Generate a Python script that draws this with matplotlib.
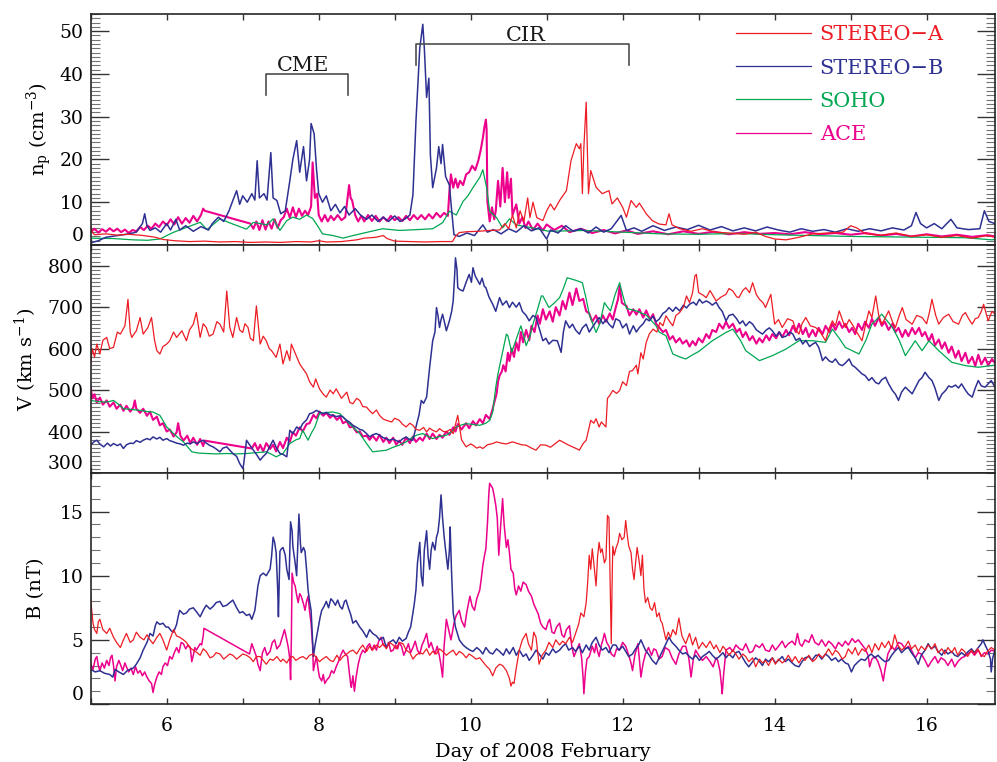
import matplotlib
matplotlib.use("Agg")
import matplotlib.pyplot as plt
import numpy as np
from matplotlib.ticker import MultipleLocator

plt.rcParams["font.family"] = ["DejaVu Serif"]
plt.rcParams["mathtext.fontset"] = "dejavuserif"

C_STA = "#ed1c24"
C_STB = "#2e3192"
C_SOHO = "#00a651"
C_ACE = "#ec008c"

series_names = ["STEREO\u2212A", "STEREO\u2212B", "SOHO", "ACE"]

# ---------------- proton density (cm^-3), (day, value)
np_sta = [(5.0, 4.5), (5.02, 3.0), (5.05, 2.4), (5.2, 2.6), (5.35, 2.3), (5.5, 2.5), (5.7, 2.2),
          (5.85, 1.8), (5.95, 1.3), (6.1, 1.0), (6.3, 0.8), (6.5, 0.9), (6.7, 0.7), (6.9, 0.8),
          (7.1, 0.6), (7.3, 0.7), (7.5, 0.6), (7.7, 0.8), (7.9, 0.7), (8.0, 1.0), (8.1, 0.7),
          (8.3, 0.8), (8.5, 1.2), (8.6, 1.6), (8.75, 1.8), (8.85, 2.2), (8.9, 1.5), (9.0, 0.9),
          (9.2, 0.8), (9.4, 0.7), (9.6, 0.8), (9.76, 0.8), (9.8, 2.0), (9.85, 2.9), (9.95, 3.1),
          (10.1, 3.2), (10.25, 3.4), (10.38, 3.5), (10.45, 5.0), (10.5, 3.8), (10.55, 7.0),
          (10.6, 4.0), (10.65, 8.0), (10.7, 5.5), (10.75, 11.0), (10.78, 6.4), (10.82, 10.0),
          (10.87, 6.4), (10.95, 5.7), (11.0, 8.0), (11.05, 9.6), (11.1, 8.2), (11.17, 10.4),
          (11.26, 12.7), (11.32, 19.7), (11.39, 23.7), (11.43, 22.5), (11.45, 23.7), (11.47, 12.0),
          (11.49, 23.0), (11.52, 33.4), (11.55, 12.0), (11.58, 17.4), (11.65, 13.5), (11.73, 12.0),
          (11.82, 12.7), (11.86, 9.6), (11.93, 11.0), (12.0, 8.8), (12.05, 6.5), (12.11, 10.4),
          (12.18, 8.8), (12.22, 9.8), (12.31, 7.3), (12.39, 5.7), (12.48, 4.9), (12.57, 4.7),
          (12.61, 7.3), (12.65, 4.7), (12.75, 3.8), (12.9, 3.2), (13.05, 3.8), (13.22, 3.0),
          (13.4, 2.8), (13.6, 2.5), (13.75, 3.0), (13.88, 2.0), (14.0, 1.4), (14.15, 1.2),
          (14.32, 1.8), (14.5, 2.6), (14.7, 2.8), (14.9, 3.0), (15.0, 4.5), (15.08, 4.0),
          (15.2, 2.6), (15.4, 2.3), (15.6, 2.8), (15.8, 2.0), (16.0, 2.4), (16.2, 1.8),
          (16.4, 2.2), (16.6, 1.6), (16.8, 2.2), (16.9, 1.8)]

np_stb = [(5.0, 0.5), (5.1, 1.0), (5.2, 1.8), (5.35, 2.2), (5.5, 2.6), (5.6, 3.0), (5.68, 5.0),
          (5.71, 7.3), (5.74, 4.5), (5.78, 3.4), (5.85, 4.0), (5.92, 3.0), (6.0, 5.0), (6.05, 3.5),
          (6.12, 6.0), (6.17, 3.5), (6.25, 4.5), (6.35, 3.2), (6.45, 4.3), (6.55, 3.5), (6.6, 5.0),
          (6.68, 6.5), (6.75, 5.5), (6.82, 8.0), (6.87, 10.4), (6.92, 12.7), (6.96, 9.5),
          (7.0, 11.5), (7.06, 10.0), (7.12, 12.0), (7.16, 10.5), (7.19, 19.7), (7.22, 11.0),
          (7.28, 12.0), (7.32, 10.5), (7.37, 21.6), (7.40, 11.0), (7.45, 10.4), (7.5, 7.3),
          (7.56, 8.0), (7.62, 15.0), (7.66, 20.0), (7.71, 24.4), (7.75, 17.0), (7.8, 23.0),
          (7.84, 15.0), (7.88, 20.0), (7.9, 28.4), (7.94, 26.0), (7.97, 18.0), (8.0, 12.0),
          (8.05, 10.0), (8.1, 11.5), (8.16, 8.0), (8.22, 9.5), (8.28, 7.5), (8.34, 9.0),
          (8.4, 7.0), (8.48, 8.5), (8.55, 7.0), (8.63, 6.0), (8.7, 7.0), (8.78, 5.5), (8.85, 6.5),
          (8.92, 5.5), (9.0, 6.8), (9.07, 5.5), (9.13, 6.0), (9.2, 7.0), (9.24, 11.7), (9.28, 29.0),
          (9.33, 46.0), (9.37, 51.6), (9.39, 46.0), (9.42, 34.5), (9.45, 39.0), (9.47, 21.0),
          (9.5, 13.4), (9.55, 18.0), (9.58, 23.0), (9.61, 19.0), (9.63, 23.5), (9.67, 16.0),
          (9.7, 14.8), (9.72, 14.0), (9.75, 8.0), (9.78, 2.4), (9.85, 2.0), (9.95, 2.8),
          (10.05, 2.2), (10.16, 4.7), (10.22, 3.0), (10.3, 3.6), (10.4, 2.6), (10.5, 3.8),
          (10.6, 3.0), (10.7, 4.5), (10.8, 3.3), (10.9, 4.0), (11.0, 1.4), (11.05, 3.5),
          (11.15, 2.8), (11.25, 4.5), (11.35, 3.2), (11.45, 3.8), (11.55, 2.8), (11.65, 4.2),
          (11.75, 3.0), (11.85, 3.8), (11.98, 6.9), (12.05, 3.4), (12.15, 4.0), (12.25, 3.2),
          (12.4, 4.5), (12.55, 3.4), (12.7, 4.2), (12.85, 3.6), (13.0, 4.6), (13.15, 3.5),
          (13.3, 4.3), (13.45, 3.3), (13.6, 4.0), (13.75, 3.3), (13.9, 4.2), (14.05, 3.5),
          (14.2, 3.0), (14.35, 3.8), (14.5, 3.2), (14.65, 3.6), (14.8, 3.0), (14.95, 3.8),
          (15.1, 3.2), (15.25, 3.8), (15.4, 3.3), (15.55, 4.0), (15.7, 3.5), (15.8, 4.5),
          (15.86, 7.6), (15.92, 5.0), (16.0, 4.0), (16.1, 5.0), (16.2, 3.8), (16.32, 6.0),
          (16.4, 4.0), (16.55, 3.6), (16.7, 3.8), (16.76, 8.0), (16.82, 5.5), (16.9, 5.0)]

np_soho = [(5.0, 1.6), (5.3, 1.5), (5.56, 1.2), (5.75, 1.1), (5.91, 1.4), (6.08, 2.9), (6.26, 4.1),
           (6.44, 5.3), (6.53, 3.6), (6.7, 6.1), (6.87, 4.9), (7.05, 3.7), (7.14, 5.3), (7.32, 4.7),
           (7.4, 6.1), (7.49, 3.4), (7.58, 5.7), (7.66, 6.5), (7.75, 6.0), (7.84, 7.0), (7.92, 6.2),
           (7.97, 4.9), (8.05, 2.6), (8.19, 2.2), (8.32, 1.6), (8.45, 2.2), (8.62, 2.9), (8.84, 3.8),
           (9.06, 3.4), (9.3, 3.6), (9.5, 3.8), (9.63, 5.2), (9.72, 7.9), (9.81, 7.0), (9.9, 10.2),
           (9.96, 11.4), (10.03, 13.4), (10.12, 15.8), (10.16, 17.6), (10.21, 13.4), (10.25, 7.9),
           (10.34, 6.4), (10.42, 4.0), (10.51, 6.1), (10.6, 4.7), (10.81, 4.0), (11.03, 3.2),
           (11.5, 3.4), (12.0, 3.0), (12.5, 2.6), (13.0, 2.5), (13.5, 2.7), (14.0, 2.4),
           (14.5, 2.2), (15.0, 2.0), (15.5, 1.9), (16.0, 1.8), (16.5, 1.7), (16.86, 1.2), (16.9, 1.3)]

np_ace = [(5.0, 3.0), (5.05, 3.8), (5.1, 2.9), (5.15, 3.7), (5.2, 3.1), (5.25, 3.9), (5.3, 3.2),
          (5.35, 3.8), (5.4, 3.0), (5.45, 3.6), (5.5, 2.8), (5.55, 3.5), (5.6, 3.2), (5.65, 4.2),
          (5.7, 3.5), (5.75, 4.5), (5.8, 3.8), (5.85, 5.0), (5.9, 4.2), (5.95, 5.5), (6.0, 4.6),
          (6.05, 6.0), (6.1, 4.8), (6.15, 6.5), (6.2, 5.0), (6.25, 6.3), (6.3, 5.2), (6.35, 6.8),
          (6.4, 5.5), (6.45, 7.0), (6.48, 8.5), (6.5, 8.0), (7.1, 5.0), (7.14, 3.8), (7.18, 5.5),
          (7.22, 3.5), (7.26, 5.8), (7.3, 3.6), (7.34, 5.5), (7.38, 3.8), (7.42, 6.0), (7.46, 4.0),
          (7.5, 5.8), (7.54, 6.5), (7.58, 8.5), (7.62, 6.4), (7.66, 8.8), (7.7, 6.5), (7.74, 8.5),
          (7.78, 6.8), (7.82, 8.0), (7.86, 7.0), (7.9, 9.0), (7.92, 19.3), (7.95, 11.0),
          (7.98, 12.0), (8.0, 7.0), (8.04, 5.5), (8.08, 7.0), (8.12, 5.5), (8.16, 6.8), (8.2, 5.8),
          (8.25, 7.0), (8.3, 5.8), (8.35, 6.5), (8.4, 14.0), (8.42, 11.0), (8.44, 10.4), (8.48, 7.0),
          (8.52, 5.5), (8.56, 6.8), (8.6, 5.5), (8.65, 7.0), (8.7, 5.6), (8.75, 6.8), (8.8, 5.5),
          (8.85, 6.5), (8.9, 5.6), (8.95, 6.8), (9.0, 5.8), (9.05, 6.5), (9.1, 5.6), (9.15, 6.8),
          (9.2, 5.8), (9.25, 7.0), (9.3, 6.0), (9.35, 7.0), (9.4, 6.0), (9.45, 7.2), (9.5, 6.2),
          (9.55, 7.5), (9.6, 6.5), (9.65, 7.5), (9.7, 6.8), (9.72, 12.5), (9.74, 16.5),
          (9.77, 13.4), (9.8, 15.5), (9.83, 13.4), (9.86, 15.0), (9.9, 14.0), (9.94, 16.5),
          (9.98, 17.0), (10.02, 18.5), (10.06, 17.5), (10.1, 19.7), (10.13, 22.0), (10.16, 25.0),
          (10.18, 27.5), (10.2, 29.3), (10.21, 27.0), (10.22, 10.2), (10.25, 5.5), (10.28, 8.8),
          (10.31, 6.0), (10.33, 8.0), (10.36, 15.0), (10.39, 9.0), (10.42, 18.0), (10.45, 10.0),
          (10.48, 17.0), (10.5, 11.0), (10.53, 15.5), (10.55, 7.0), (10.6, 9.5), (10.64, 5.0),
          (10.68, 6.5), (10.72, 4.0), (10.76, 5.5), (10.82, 3.5), (10.88, 5.0), (10.95, 3.4),
          (11.0, 4.8), (11.1, 3.5), (11.2, 4.5), (11.3, 3.0), (11.45, 3.8), (11.6, 2.8),
          (11.75, 3.5), (11.9, 2.7), (12.05, 3.4), (12.2, 2.6), (12.4, 3.2), (12.6, 2.5),
          (12.8, 3.2), (13.0, 2.6), (13.2, 3.1), (13.4, 2.5), (13.6, 3.0), (13.8, 2.6), (14.0, 2.8),
          (14.2, 2.5), (14.4, 3.0), (14.6, 2.5), (14.8, 2.8), (15.0, 2.4), (15.2, 2.8), (15.4, 2.2),
          (15.6, 2.6), (15.8, 2.0), (16.0, 2.5), (16.2, 2.0), (16.4, 2.4), (16.6, 1.9), (16.8, 2.3),
          (16.9, 2.0)]

# ---------------- bulk speed (km/s)
v_sta = [(5.0, 563), (5.02, 600), (5.05, 580), (5.08, 611), (5.12, 587), (5.16, 620), (5.21, 627),
         (5.25, 600), (5.3, 603), (5.35, 640), (5.39, 635), (5.45, 655), (5.49, 719), (5.52, 640),
         (5.54, 627), (5.6, 643), (5.65, 675), (5.69, 635), (5.75, 650), (5.8, 675), (5.84, 620),
         (5.87, 595), (5.91, 587), (5.95, 605), (6.0, 611), (6.04, 619), (6.09, 640), (6.13, 627),
         (6.2, 643), (6.26, 619), (6.3, 645), (6.35, 659), (6.39, 687), (6.44, 627), (6.48, 660),
         (6.52, 651), (6.56, 630), (6.61, 635), (6.66, 665), (6.7, 659), (6.75, 640), (6.79, 739),
         (6.83, 651), (6.87, 627), (6.92, 675), (6.96, 645), (7.0, 639), (7.03, 660), (7.07, 651),
         (7.1, 625), (7.14, 619), (7.18, 703), (7.23, 611), (7.27, 630), (7.31, 619), (7.35, 600),
         (7.38, 595), (7.44, 579), (7.49, 611), (7.53, 563), (7.58, 595), (7.62, 571), (7.64, 611),
         (7.75, 563), (7.84, 539), (7.88, 520), (7.93, 507), (7.96, 527), (8.01, 503), (8.06, 490),
         (8.1, 483), (8.15, 500), (8.19, 491), (8.23, 503), (8.3, 480), (8.37, 495), (8.41, 470),
         (8.45, 467), (8.5, 480), (8.54, 475), (8.58, 460), (8.63, 459), (8.67, 450), (8.71, 443),
         (8.76, 452), (8.8, 439), (8.85, 430), (8.89, 427), (8.96, 423), (9.0, 432), (9.06, 427),
         (9.1, 418), (9.15, 411), (9.2, 420), (9.24, 415), (9.28, 405), (9.33, 403), (9.38, 410),
         (9.42, 399), (9.46, 408), (9.5, 403), (9.55, 399), (9.59, 407), (9.64, 400), (9.68, 399),
         (9.73, 405), (9.77, 395), (9.83, 439), (9.88, 380), (9.94, 363), (10.0, 370), (10.03, 367),
         (10.08, 360), (10.12, 363), (10.16, 359), (10.22, 368), (10.29, 371), (10.34, 375),
         (10.4, 372), (10.47, 370), (10.55, 375), (10.6, 372), (10.67, 368), (10.73, 367),
         (10.8, 360), (10.86, 355), (10.92, 368), (10.99, 367), (11.05, 362), (11.12, 372),
         (11.17, 379), (11.21, 375), (11.28, 368), (11.34, 363), (11.4, 358), (11.43, 355),
         (11.48, 371), (11.52, 379), (11.56, 411), (11.58, 427), (11.62, 420), (11.65, 431),
         (11.69, 411), (11.72, 423), (11.78, 411), (11.8, 480), (11.83, 487), (11.87, 499),
         (11.92, 492), (11.96, 499), (12.0, 520), (12.05, 511), (12.09, 545), (12.13, 547),
         (12.18, 560), (12.2, 539), (12.24, 590), (12.27, 575), (12.31, 615), (12.35, 635),
         (12.4, 647), (12.45, 640), (12.49, 663), (12.53, 655), (12.57, 679), (12.62, 665),
         (12.66, 655), (12.7, 680), (12.75, 687), (12.8, 700), (12.84, 727), (12.88, 711),
         (12.92, 735), (12.95, 775), (12.97, 779), (13.0, 735), (13.05, 730), (13.1, 723),
         (13.15, 740), (13.23, 715), (13.3, 725), (13.36, 731), (13.4, 745), (13.45, 739),
         (13.5, 725), (13.53, 723), (13.58, 740), (13.62, 747), (13.67, 735), (13.71, 759),
         (13.76, 730), (13.8, 719), (13.85, 710), (13.88, 699), (13.95, 731), (14.0, 659),
         (14.05, 670), (14.1, 651), (14.17, 672), (14.24, 667), (14.28, 645), (14.32, 635),
         (14.36, 660), (14.41, 675), (14.47, 655), (14.54, 651), (14.6, 640), (14.67, 619),
         (14.72, 650), (14.76, 667), (14.8, 655), (14.85, 691), (14.9, 665), (14.93, 651),
         (14.98, 670), (15.02, 659), (15.08, 640), (15.15, 619), (15.2, 660), (15.24, 691),
         (15.28, 675), (15.33, 727), (15.37, 680), (15.41, 659), (15.45, 672), (15.5, 691),
         (15.55, 665), (15.59, 651), (15.64, 680), (15.68, 699), (15.73, 670), (15.81, 659),
         (15.87, 680), (15.94, 675), (16.0, 660), (16.04, 690), (16.07, 719), (16.12, 680),
         (16.16, 659), (16.22, 675), (16.29, 683), (16.35, 665), (16.42, 659), (16.47, 680),
         (16.51, 687), (16.56, 670), (16.6, 659), (16.64, 672), (16.68, 675), (16.72, 690),
         (16.75, 707), (16.81, 667), (16.86, 690), (16.9, 683)]

v_stb = [(5.0, 367), (5.04, 375), (5.08, 379), (5.12, 370), (5.17, 363), (5.22, 372), (5.26, 365),
         (5.3, 371), (5.35, 366), (5.39, 370), (5.43, 359), (5.47, 368), (5.52, 372), (5.56, 371),
         (5.6, 378), (5.65, 374), (5.69, 379), (5.74, 383), (5.78, 380), (5.82, 387), (5.87, 382),
         (5.91, 386), (5.95, 379), (6.0, 383), (6.04, 378), (6.09, 375), (6.13, 372), (6.18, 370),
         (6.22, 367), (6.27, 372), (6.31, 370), (6.35, 375), (6.4, 371), (6.44, 376), (6.48, 379),
         (6.52, 372), (6.57, 366), (6.61, 363), (6.65, 358), (6.7, 351), (6.74, 360), (6.79, 363),
         (6.83, 355), (6.87, 347), (6.92, 340), (6.96, 323), (7.0, 311), (7.01, 318), (7.03, 347),
         (7.05, 379), (7.09, 368), (7.14, 355), (7.18, 345), (7.23, 331), (7.27, 340), (7.31, 347),
         (7.35, 362), (7.4, 379), (7.44, 362), (7.49, 347), (7.53, 345), (7.58, 339), (7.6, 370),
         (7.62, 403), (7.66, 395), (7.71, 411), (7.75, 405), (7.79, 419), (7.84, 428), (7.88, 443),
         (7.92, 445), (7.97, 451), (8.01, 447), (8.06, 443), (8.1, 446), (8.15, 440), (8.19, 439),
         (8.23, 436), (8.28, 438), (8.32, 435), (8.36, 428), (8.41, 422), (8.45, 415), (8.5, 410),
         (8.54, 405), (8.58, 403), (8.63, 395), (8.67, 387), (8.71, 392), (8.76, 395), (8.8, 391),
         (8.85, 385), (8.89, 383), (8.93, 379), (8.98, 382), (9.02, 378), (9.06, 375), (9.1, 382),
         (9.15, 387), (9.2, 380), (9.24, 379), (9.28, 411), (9.32, 440), (9.35, 475), (9.38, 468),
         (9.42, 483), (9.46, 555), (9.5, 619), (9.53, 640), (9.55, 699), (9.57, 680), (9.59, 651),
         (9.61, 670), (9.63, 683), (9.66, 660), (9.68, 643), (9.7, 655), (9.72, 667), (9.75, 690),
         (9.77, 715), (9.79, 780), (9.8, 819), (9.82, 790), (9.83, 747), (9.86, 742), (9.9, 739),
         (9.94, 760), (9.98, 779), (10.01, 760), (10.03, 795), (10.06, 775), (10.09, 765),
         (10.12, 755), (10.15, 770), (10.18, 750), (10.2, 747), (10.24, 725), (10.29, 707),
         (10.33, 690), (10.38, 723), (10.42, 705), (10.47, 715), (10.51, 699), (10.55, 712),
         (10.6, 700), (10.64, 711), (10.68, 690), (10.73, 680), (10.77, 667), (10.82, 680),
         (10.86, 675), (10.9, 650), (10.95, 619), (10.99, 625), (11.03, 611), (11.08, 620),
         (11.14, 619), (11.19, 591), (11.22, 640), (11.25, 667), (11.3, 650), (11.34, 659),
         (11.38, 645), (11.43, 635), (11.47, 650), (11.52, 659), (11.56, 640), (11.6, 651),
         (11.65, 665), (11.69, 675), (11.74, 660), (11.78, 670), (11.82, 659), (11.87, 650),
         (11.91, 672), (11.96, 667), (12.0, 650), (12.05, 660), (12.09, 635), (12.14, 655),
         (12.18, 640), (12.22, 651), (12.27, 660), (12.31, 672), (12.35, 667), (12.4, 678),
         (12.44, 665), (12.48, 671), (12.53, 685), (12.57, 690), (12.61, 699), (12.66, 690),
         (12.7, 700), (12.75, 691), (12.8, 705), (12.84, 698), (12.88, 707), (12.93, 712),
         (12.97, 705), (13.01, 719), (13.05, 710), (13.1, 715), (13.14, 711), (13.18, 705),
         (13.23, 712), (13.27, 699), (13.31, 690), (13.36, 667), (13.4, 680), (13.45, 683),
         (13.5, 672), (13.54, 660), (13.58, 667), (13.62, 655), (13.67, 665), (13.71, 659),
         (13.76, 645), (13.8, 640), (13.84, 635), (13.89, 645), (13.93, 650), (13.97, 643),
         (14.02, 630), (14.06, 640), (14.1, 627), (14.15, 630), (14.2, 640), (14.24, 635),
         (14.28, 620), (14.33, 625), (14.37, 611), (14.41, 620), (14.46, 605), (14.5, 611),
         (14.54, 615), (14.58, 603), (14.61, 585), (14.63, 571), (14.67, 580), (14.72, 570),
         (14.76, 567), (14.8, 575), (14.85, 562), (14.89, 559), (14.93, 565), (14.98, 575),
         (15.02, 560), (15.06, 555), (15.1, 548), (15.15, 539), (15.19, 535), (15.24, 523),
         (15.28, 530), (15.33, 518), (15.37, 515), (15.41, 525), (15.46, 531), (15.5, 515),
         (15.55, 499), (15.59, 490), (15.63, 475), (15.67, 495), (15.72, 507), (15.76, 500),
         (15.81, 491), (15.85, 505), (15.9, 523), (15.94, 530), (15.98, 543), (16.03, 530),
         (16.07, 523), (16.11, 505), (16.16, 475), (16.2, 490), (16.25, 499), (16.29, 510),
         (16.33, 507), (16.38, 512), (16.42, 505), (16.46, 515), (16.51, 500), (16.55, 490),
         (16.6, 483), (16.64, 505), (16.68, 523), (16.72, 510), (16.77, 507), (16.81, 515),
         (16.85, 523), (16.9, 507)]

v_soho = [(5.0, 475), (5.1, 472), (5.21, 471), (5.3, 475), (5.37, 465), (5.43, 455), (5.55, 453),
          (5.65, 451), (5.75, 448), (5.82, 447), (5.91, 439), (6.0, 411), (6.09, 395), (6.15, 385),
          (6.22, 375), (6.28, 362), (6.33, 351), (6.42, 348), (6.52, 347), (6.65, 346), (6.79, 347),
          (6.92, 346), (7.05, 347), (7.18, 349), (7.31, 351), (7.38, 345), (7.44, 339), (7.53, 347),
          (7.62, 371), (7.7, 380), (7.75, 383), (7.79, 403), (7.86, 379), (7.9, 395), (7.95, 411),
          (8.01, 443), (8.1, 446), (8.19, 447), (8.28, 443), (8.36, 427), (8.45, 411), (8.54, 395),
          (8.63, 371), (8.71, 351), (8.8, 353), (8.89, 355), (8.98, 362), (9.06, 367), (9.15, 375),
          (9.24, 387), (9.3, 392), (9.37, 395), (9.44, 388), (9.5, 383), (9.59, 388), (9.68, 391),
          (9.75, 400), (9.81, 411), (9.88, 416), (9.94, 419), (10.03, 417), (10.12, 415),
          (10.2, 420), (10.25, 427), (10.29, 447), (10.33, 507), (10.36, 540), (10.4, 575),
          (10.47, 635), (10.49, 631), (10.54, 591), (10.6, 623), (10.66, 655), (10.7, 630),
          (10.73, 607), (10.78, 630), (10.82, 659), (10.88, 695), (10.93, 727), (10.95, 727),
          (11.03, 699), (11.1, 710), (11.17, 723), (11.22, 745), (11.27, 771), (11.38, 765),
          (11.47, 759), (11.52, 720), (11.56, 683), (11.65, 639), (11.7, 660), (11.76, 711),
          (11.8, 700), (11.84, 691), (11.9, 730), (11.96, 759), (12.0, 730), (12.05, 697),
          (12.18, 691), (12.31, 681), (12.44, 655), (12.48, 640), (12.57, 631), (12.66, 587),
          (12.75, 580), (12.83, 575), (12.92, 585), (13.0, 593), (13.18, 619), (13.36, 639),
          (13.45, 647), (13.55, 620), (13.62, 595), (13.8, 571), (13.97, 583), (14.15, 599),
          (14.32, 619), (14.5, 619), (14.67, 615), (14.76, 647), (14.85, 625), (14.93, 603),
          (15.11, 587), (15.2, 620), (15.28, 659), (15.41, 683), (15.55, 651), (15.64, 620),
          (15.72, 583), (15.85, 619), (15.94, 595), (16.03, 619), (16.16, 595), (16.33, 567),
          (16.51, 559), (16.68, 555), (16.86, 559), (16.9, 560)]

v_ace = [(5.0, 505), (5.02, 480), (5.05, 490), (5.08, 470), (5.12, 482), (5.16, 465), (5.21, 475),
         (5.25, 460), (5.3, 470), (5.34, 455), (5.39, 465), (5.43, 450), (5.47, 462), (5.52, 448),
         (5.56, 458), (5.58, 475), (5.6, 455), (5.65, 445), (5.69, 455), (5.74, 438), (5.78, 448),
         (5.82, 428), (5.87, 436), (5.91, 415), (5.95, 420), (6.0, 400), (6.04, 405), (6.09, 388),
         (6.13, 398), (6.15, 420), (6.18, 390), (6.22, 378), (6.27, 390), (6.31, 372), (6.35, 385),
         (6.4, 368), (6.44, 382), (6.48, 365), (6.5, 378), (7.12, 359), (7.16, 372), (7.2, 355),
         (7.23, 368), (7.27, 352), (7.31, 372), (7.36, 358), (7.4, 368), (7.44, 352), (7.49, 375),
         (7.53, 360), (7.58, 385), (7.62, 375), (7.66, 398), (7.7, 390), (7.75, 410), (7.79, 400),
         (7.84, 418), (7.88, 420), (7.93, 440), (7.97, 432), (8.01, 448), (8.06, 438), (8.1, 445),
         (8.15, 433), (8.19, 440), (8.24, 428), (8.28, 436), (8.32, 420), (8.37, 425), (8.41, 410),
         (8.45, 412), (8.5, 398), (8.54, 400), (8.58, 388), (8.63, 390), (8.67, 380), (8.71, 390),
         (8.76, 378), (8.8, 392), (8.85, 375), (8.89, 385), (8.93, 372), (8.98, 385), (9.02, 368),
         (9.06, 378), (9.1, 368), (9.15, 385), (9.2, 372), (9.24, 388), (9.28, 375), (9.33, 385),
         (9.37, 378), (9.42, 395), (9.46, 382), (9.5, 395), (9.55, 382), (9.59, 392), (9.63, 385),
         (9.68, 400), (9.72, 392), (9.77, 410), (9.8, 400), (9.83, 418), (9.88, 405), (9.94, 420),
         (9.98, 408), (10.03, 425), (10.07, 415), (10.12, 430), (10.16, 420), (10.2, 440),
         (10.25, 430), (10.29, 455), (10.31, 470), (10.34, 490), (10.36, 520), (10.38, 535),
         (10.41, 545), (10.43, 560), (10.46, 545), (10.49, 590), (10.51, 570), (10.54, 600),
         (10.57, 580), (10.6, 615), (10.63, 595), (10.66, 640), (10.69, 615), (10.73, 645),
         (10.77, 620), (10.8, 655), (10.84, 640), (10.88, 680), (10.91, 660), (10.95, 695),
         (10.99, 670), (11.04, 690), (11.08, 665), (11.12, 700), (11.17, 680), (11.21, 715),
         (11.25, 695), (11.3, 735), (11.34, 705), (11.39, 745), (11.43, 715), (11.48, 720),
         (11.52, 690), (11.56, 685), (11.6, 665), (11.65, 680), (11.69, 660), (11.74, 680),
         (11.78, 665), (11.83, 685), (11.87, 670), (11.91, 700), (11.94, 720), (11.96, 751),
         (11.99, 710), (12.05, 703), (12.09, 680), (12.14, 695), (12.18, 682), (12.22, 695),
         (12.27, 675), (12.31, 692), (12.36, 670), (12.4, 683), (12.44, 660), (12.48, 651),
         (12.53, 640), (12.57, 645), (12.62, 622), (12.66, 630), (12.7, 615), (12.75, 625),
         (12.79, 612), (12.84, 620), (12.88, 605), (12.92, 618), (12.96, 608), (13.0, 625),
         (13.05, 615), (13.1, 635), (13.14, 625), (13.18, 645), (13.23, 640), (13.27, 660),
         (13.32, 648), (13.36, 665), (13.4, 650), (13.45, 660), (13.5, 640), (13.54, 648),
         (13.58, 628), (13.62, 640), (13.67, 620), (13.71, 630), (13.76, 612), (13.8, 625),
         (13.84, 615), (13.89, 632), (13.93, 620), (13.97, 635), (14.02, 625), (14.06, 640),
         (14.1, 628), (14.15, 645), (14.19, 632), (14.24, 655), (14.28, 640), (14.32, 660),
         (14.37, 635), (14.41, 650), (14.45, 628), (14.5, 645), (14.54, 630), (14.58, 650),
         (14.63, 635), (14.67, 655), (14.72, 640), (14.76, 660), (14.8, 645), (14.85, 665),
         (14.89, 650), (14.93, 660), (14.98, 640), (15.02, 650), (15.06, 635), (15.1, 660),
         (15.15, 645), (15.19, 665), (15.24, 650), (15.28, 672), (15.32, 655), (15.37, 675),
         (15.41, 655), (15.45, 665), (15.5, 645), (15.55, 660), (15.59, 640), (15.63, 650),
         (15.68, 628), (15.72, 645), (15.76, 630), (15.81, 650), (15.85, 635), (15.9, 650),
         (15.94, 630), (15.98, 640), (16.03, 618), (16.07, 635), (16.11, 608), (16.16, 622),
         (16.2, 600), (16.24, 615), (16.29, 590), (16.33, 605), (16.38, 578), (16.42, 595),
         (16.46, 570), (16.51, 590), (16.55, 565), (16.6, 580), (16.64, 558), (16.68, 585),
         (16.72, 562), (16.77, 578), (16.81, 560), (16.86, 575), (16.9, 565)]

# ---------------- magnetic field magnitude (nT)
b_sta = [(5.0, 8.4), (5.01, 7.5), (5.03, 6.3), (5.05, 5.8), (5.08, 5.5), (5.1, 6.4), (5.12, 6.6),
         (5.16, 5.8), (5.21, 5.5), (5.25, 5.9), (5.3, 5.2), (5.34, 4.8), (5.39, 4.4), (5.43, 5.0),
         (5.47, 5.5), (5.52, 4.8), (5.56, 5.0), (5.6, 5.6), (5.65, 5.2), (5.7, 5.0), (5.74, 5.4),
         (5.78, 5.0), (5.82, 4.7), (5.87, 5.2), (5.91, 5.5), (5.95, 5.0), (6.0, 4.2), (6.04, 5.0),
         (6.09, 5.8), (6.13, 5.3), (6.17, 5.2), (6.22, 5.0), (6.26, 4.8), (6.3, 4.4), (6.35, 4.2),
         (6.4, 4.0), (6.44, 3.8), (6.48, 4.3), (6.52, 4.1), (6.57, 3.6), (6.61, 3.7), (6.65, 4.0),
         (6.7, 3.9), (6.75, 3.5), (6.79, 3.7), (6.83, 3.9), (6.87, 3.8), (6.92, 3.5), (6.96, 3.7),
         (7.0, 3.9), (7.05, 3.8), (7.1, 3.6), (7.14, 3.3), (7.18, 3.7), (7.23, 3.7), (7.27, 3.4),
         (7.31, 3.1), (7.36, 3.5), (7.4, 3.4), (7.45, 3.7), (7.5, 3.3), (7.53, 3.5), (7.58, 3.2),
         (7.62, 3.6), (7.66, 3.7), (7.7, 3.4), (7.75, 3.6), (7.79, 3.7), (7.84, 3.5), (7.88, 3.8),
         (7.93, 3.9), (7.97, 3.6), (8.01, 3.3), (8.05, 3.5), (8.1, 3.7), (8.15, 3.4), (8.19, 3.3),
         (8.24, 3.8), (8.28, 3.4), (8.32, 3.7), (8.37, 3.9), (8.41, 4.1), (8.45, 4.2), (8.5, 3.9),
         (8.54, 4.3), (8.58, 4.6), (8.63, 4.1), (8.67, 4.5), (8.71, 4.2), (8.76, 4.6), (8.8, 4.4),
         (8.85, 4.7), (8.89, 4.3), (8.93, 4.8), (8.98, 4.6), (9.02, 4.3), (9.06, 4.8), (9.11, 4.7),
         (9.15, 4.2), (9.2, 4.0), (9.24, 3.5), (9.28, 3.8), (9.33, 4.0), (9.37, 3.9), (9.42, 4.3),
         (9.46, 3.8), (9.5, 4.1), (9.55, 3.9), (9.59, 4.3), (9.63, 4.1), (9.68, 3.8), (9.72, 4.0),
         (9.77, 4.2), (9.81, 3.8), (9.85, 4.1), (9.9, 3.9), (9.94, 3.6), (9.98, 3.9), (10.03, 3.7),
         (10.07, 3.5), (10.12, 3.6), (10.16, 3.3), (10.2, 3.0), (10.25, 2.7), (10.29, 2.2),
         (10.33, 2.8), (10.38, 3.1), (10.42, 3.0), (10.47, 2.6), (10.51, 2.0), (10.53, 1.4),
         (10.55, 1.7), (10.57, 1.6), (10.6, 2.8), (10.64, 4.2), (10.68, 5.0), (10.73, 5.5),
         (10.76, 4.7), (10.8, 4.2), (10.83, 5.6), (10.86, 5.2), (10.9, 3.1), (10.94, 3.8),
         (10.99, 4.2), (11.03, 4.8), (11.08, 4.4), (11.12, 5.0), (11.17, 4.6), (11.21, 4.9),
         (11.25, 4.7), (11.3, 5.2), (11.34, 4.8), (11.38, 5.5), (11.42, 6.2), (11.45, 7.1),
         (11.49, 6.8), (11.52, 7.9), (11.54, 9.5), (11.56, 11.6), (11.58, 10.5), (11.6, 12.1),
         (11.62, 11.0), (11.65, 9.2), (11.67, 11.5), (11.69, 12.6), (11.71, 11.8), (11.73, 12.1),
         (11.76, 11.0), (11.78, 11.3), (11.8, 14.7), (11.82, 14.5), (11.84, 8.0), (11.85, 4.7),
         (11.86, 9.0), (11.87, 12.3), (11.89, 11.6), (11.91, 12.1), (11.94, 12.6), (11.96, 13.3),
         (11.99, 12.8), (12.02, 13.0), (12.04, 14.3), (12.06, 13.2), (12.08, 12.3), (12.11, 11.8),
         (12.13, 10.5), (12.15, 9.7), (12.17, 11.0), (12.19, 12.2), (12.22, 11.0), (12.24, 10.0),
         (12.26, 11.6), (12.28, 9.0), (12.3, 7.9), (12.33, 8.3), (12.36, 7.5), (12.39, 7.3),
         (12.42, 7.9), (12.45, 6.8), (12.48, 7.1), (12.5, 6.5), (12.52, 6.3), (12.55, 5.5),
         (12.57, 5.0), (12.6, 5.6), (12.63, 5.2), (12.66, 5.8), (12.7, 5.4), (12.74, 6.7),
         (12.78, 5.3), (12.83, 4.7), (12.88, 5.5), (12.92, 4.6), (12.96, 5.2), (13.0, 4.3),
         (13.05, 4.8), (13.1, 4.4), (13.15, 4.9), (13.2, 4.3), (13.23, 4.6), (13.28, 4.0),
         (13.32, 4.5), (13.36, 4.2), (13.4, 3.8), (13.45, 4.2), (13.49, 3.9), (13.53, 3.5),
         (13.58, 3.9), (13.62, 3.7), (13.66, 3.3), (13.71, 3.6), (13.75, 2.9), (13.8, 3.5),
         (13.84, 3.2), (13.88, 3.4), (13.92, 3.0), (13.97, 3.6), (14.01, 3.1), (14.05, 3.5),
         (14.1, 3.2), (14.14, 3.4), (14.18, 3.8), (14.23, 3.3), (14.27, 3.7), (14.32, 3.2),
         (14.36, 3.6), (14.4, 3.4), (14.45, 3.8), (14.5, 3.3), (14.54, 3.5), (14.58, 3.9),
         (14.63, 3.6), (14.67, 3.9), (14.71, 4.3), (14.76, 3.8), (14.8, 4.2), (14.84, 4.0),
         (14.89, 3.5), (14.93, 3.7), (14.97, 4.3), (15.02, 3.9), (15.06, 4.4), (15.1, 3.8),
         (15.15, 4.3), (15.19, 4.1), (15.24, 4.6), (15.28, 4.0), (15.32, 4.7), (15.37, 4.2),
         (15.41, 4.8), (15.45, 4.4), (15.5, 4.9), (15.54, 4.3), (15.58, 5.4), (15.62, 4.6),
         (15.67, 4.2), (15.71, 4.4), (15.76, 4.9), (15.8, 4.3), (15.85, 4.6), (15.89, 4.1),
         (15.93, 4.5), (15.98, 4.2), (16.02, 4.6), (16.07, 4.3), (16.11, 4.7), (16.15, 4.0),
         (16.2, 4.3), (16.24, 3.9), (16.28, 4.4), (16.33, 4.0), (16.37, 4.4), (16.41, 3.8),
         (16.46, 4.3), (16.5, 4.1), (16.54, 3.7), (16.59, 4.2), (16.63, 3.9), (16.67, 4.3),
         (16.72, 3.8), (16.76, 3.7), (16.8, 4.1), (16.85, 4.4), (16.9, 4.2)]

b_stb = [(5.0, 2.7), (5.06, 2.5), (5.12, 2.6), (5.18, 2.4), (5.25, 2.3), (5.29, 2.1), (5.32, 2.7),
         (5.37, 2.5), (5.43, 2.3), (5.48, 2.6), (5.52, 2.7), (5.56, 2.8), (5.6, 3.1), (5.65, 3.6),
         (5.69, 4.2), (5.74, 4.8), (5.78, 5.5), (5.82, 5.3), (5.85, 6.1), (5.87, 6.4), (5.91, 6.2),
         (5.95, 6.3), (5.99, 6.0), (6.02, 6.0), (6.06, 5.7), (6.09, 5.6), (6.13, 6.2), (6.15, 6.8),
         (6.17, 7.3), (6.22, 7.0), (6.26, 7.1), (6.3, 7.4), (6.35, 7.5), (6.39, 7.2), (6.44, 6.8),
         (6.48, 7.3), (6.52, 7.7), (6.57, 7.4), (6.61, 7.6), (6.65, 7.9), (6.7, 8.0), (6.74, 7.6),
         (6.79, 7.7), (6.83, 7.9), (6.87, 8.1), (6.92, 7.5), (6.96, 7.1), (7.0, 7.2), (7.05, 6.9),
         (7.09, 7.0), (7.12, 6.6), (7.16, 7.3), (7.2, 9.2), (7.23, 10.0), (7.27, 10.2), (7.31, 10.0),
         (7.36, 10.5), (7.38, 11.5), (7.4, 13.0), (7.42, 12.6), (7.44, 11.8), (7.46, 9.0),
         (7.47, 6.8), (7.48, 9.5), (7.49, 11.9), (7.51, 12.1), (7.53, 12.2), (7.56, 11.6),
         (7.58, 10.5), (7.61, 9.7), (7.63, 14.2), (7.65, 13.5), (7.66, 12.3), (7.69, 11.0),
         (7.71, 10.0), (7.74, 14.8), (7.76, 12.5), (7.77, 11.8), (7.8, 12.2), (7.82, 11.9),
         (7.84, 10.5), (7.86, 8.9), (7.88, 8.0), (7.9, 7.3), (7.92, 5.0), (7.93, 3.7), (7.95, 4.5),
         (7.99, 5.8), (8.02, 6.8), (8.04, 7.3), (8.07, 7.6), (8.1, 8.0), (8.13, 7.5), (8.16, 8.2),
         (8.19, 8.0), (8.22, 7.7), (8.25, 8.1), (8.28, 7.6), (8.31, 7.4), (8.34, 8.0), (8.36, 8.1),
         (8.39, 7.5), (8.42, 7.0), (8.45, 6.3), (8.49, 6.5), (8.54, 6.0), (8.58, 5.7), (8.63, 5.2),
         (8.67, 5.8), (8.71, 5.5), (8.76, 5.3), (8.8, 5.0), (8.85, 5.2), (8.89, 4.4), (8.93, 4.8),
         (8.98, 5.0), (9.02, 4.7), (9.06, 5.2), (9.1, 4.9), (9.15, 5.1), (9.18, 5.6), (9.21, 6.0),
         (9.24, 7.1), (9.26, 7.9), (9.28, 8.9), (9.3, 11.0), (9.33, 12.6), (9.35, 10.0),
         (9.37, 9.2), (9.39, 12.0), (9.42, 13.5), (9.44, 11.5), (9.46, 10.5), (9.48, 12.0),
         (9.5, 12.6), (9.53, 12.0), (9.55, 13.0), (9.57, 13.4), (9.59, 14.5), (9.61, 16.3),
         (9.63, 14.5), (9.65, 13.1), (9.67, 12.0), (9.7, 10.5), (9.72, 12.0), (9.73, 13.8),
         (9.75, 10.0), (9.77, 7.1), (9.8, 6.0), (9.85, 5.0), (9.9, 4.6), (9.94, 4.4), (9.99, 4.2),
         (10.03, 4.1), (10.08, 4.4), (10.12, 4.2), (10.16, 3.9), (10.2, 4.4), (10.25, 4.0),
         (10.29, 3.9), (10.34, 4.3), (10.38, 4.1), (10.43, 3.8), (10.47, 4.3), (10.51, 3.9),
         (10.56, 4.4), (10.6, 3.8), (10.64, 4.2), (10.69, 3.7), (10.73, 3.9), (10.77, 3.4),
         (10.82, 3.8), (10.86, 4.2), (10.9, 3.9), (10.95, 3.5), (10.99, 4.0), (11.03, 3.8),
         (11.08, 4.3), (11.12, 4.0), (11.17, 4.2), (11.21, 4.5), (11.25, 4.7), (11.29, 4.2),
         (11.34, 4.4), (11.38, 4.1), (11.43, 4.5), (11.47, 4.0), (11.52, 4.6), (11.56, 4.2),
         (11.6, 4.8), (11.65, 5.2), (11.69, 4.6), (11.73, 4.2), (11.78, 4.4), (11.82, 4.0),
         (11.87, 4.6), (11.91, 4.6), (11.95, 4.2), (12.0, 4.5), (12.04, 4.1), (12.08, 3.7),
         (12.13, 3.9), (12.17, 4.3), (12.21, 4.6), (12.24, 5.0), (12.27, 4.6), (12.3, 4.2),
         (12.35, 3.8), (12.39, 3.4), (12.44, 3.1), (12.48, 3.6), (12.53, 4.2), (12.57, 4.7),
         (12.61, 5.2), (12.65, 4.8), (12.7, 4.5), (12.74, 4.2), (12.79, 3.9), (12.83, 4.0),
         (12.88, 3.7), (12.92, 3.5), (12.96, 3.8), (13.01, 3.4), (13.05, 3.7), (13.1, 3.9),
         (13.14, 4.1), (13.18, 3.8), (13.23, 3.5), (13.27, 3.7), (13.32, 4.0), (13.36, 3.6),
         (13.4, 3.9), (13.45, 3.6), (13.49, 4.0), (13.53, 4.1), (13.58, 3.6), (13.62, 3.2),
         (13.66, 2.9), (13.71, 3.3), (13.75, 3.6), (13.79, 3.4), (13.84, 3.0), (13.88, 3.5),
         (13.92, 3.3), (13.97, 3.6), (14.01, 3.2), (14.05, 3.4), (14.1, 3.7), (14.14, 3.3),
         (14.18, 3.5), (14.23, 3.2), (14.27, 3.0), (14.32, 2.9), (14.36, 3.3), (14.4, 3.6),
         (14.45, 3.7), (14.49, 3.4), (14.54, 3.8), (14.58, 3.8), (14.62, 3.5), (14.67, 3.9),
         (14.71, 3.7), (14.75, 3.4), (14.8, 3.6), (14.84, 3.3), (14.88, 3.5), (14.93, 3.2),
         (14.97, 3.1), (15.01, 2.5), (15.05, 3.0), (15.1, 3.3), (15.14, 3.5), (15.19, 3.4),
         (15.23, 3.7), (15.27, 3.9), (15.32, 3.6), (15.36, 3.8), (15.41, 3.5), (15.45, 3.3),
         (15.5, 3.4), (15.54, 3.8), (15.58, 4.1), (15.63, 4.4), (15.67, 4.0), (15.72, 4.3),
         (15.76, 4.4), (15.8, 4.0), (15.85, 3.6), (15.89, 3.1), (15.93, 3.8), (15.98, 4.2),
         (16.02, 4.7), (16.06, 4.3), (16.11, 4.5), (16.15, 4.1), (16.2, 3.8), (16.24, 4.2),
         (16.28, 3.9), (16.33, 4.1), (16.37, 3.8), (16.41, 3.7), (16.46, 4.0), (16.5, 3.8),
         (16.55, 4.1), (16.59, 4.3), (16.63, 4.0), (16.68, 4.4), (16.72, 4.7), (16.74, 5.0),
         (16.77, 4.6), (16.81, 4.1), (16.84, 3.5), (16.85, 2.5), (16.87, 3.6), (16.9, 4.2)]

b_ace = [(5.0, 3.1), (5.03, 2.7), (5.06, 3.5), (5.08, 3.7), (5.1, 3.0), (5.12, 2.6), (5.15, 3.2),
         (5.18, 2.8), (5.21, 3.4), (5.24, 3.0), (5.26, 3.6), (5.28, 3.8), (5.3, 3.0), (5.32, 1.8),
         (5.34, 2.9), (5.37, 3.4), (5.39, 3.1), (5.42, 2.6), (5.45, 3.2), (5.47, 2.9), (5.5, 2.5),
         (5.53, 2.8), (5.56, 2.3), (5.59, 2.9), (5.62, 2.4), (5.65, 2.6), (5.68, 2.2), (5.71, 2.5),
         (5.74, 2.1), (5.77, 1.8), (5.8, 1.6), (5.82, 0.9), (5.84, 1.5), (5.87, 2.1), (5.9, 2.5),
         (5.93, 2.3), (5.95, 2.9), (5.98, 3.2), (6.01, 3.0), (6.04, 3.7), (6.07, 3.5), (6.1, 4.0),
         (6.13, 4.4), (6.16, 4.0), (6.19, 4.8), (6.22, 4.7), (6.25, 4.3), (6.28, 4.6), (6.31, 4.4),
         (6.33, 3.3), (6.35, 3.8), (6.37, 4.4), (6.39, 4.2), (6.42, 4.5), (6.44, 4.7), (6.46, 4.6),
         (6.48, 5.3), (6.49, 5.9), (7.09, 3.9), (7.12, 4.7), (7.15, 4.2), (7.18, 3.7), (7.2, 3.1),
         (7.23, 2.6), (7.26, 4.0), (7.29, 4.4), (7.32, 3.8), (7.36, 4.1), (7.39, 4.8), (7.42, 5.0),
         (7.45, 4.3), (7.49, 4.6), (7.52, 5.2), (7.55, 5.8), (7.58, 5.0), (7.6, 4.4), (7.62, 3.5),
         (7.63, 1.9), (7.64, 5.0), (7.65, 10.2), (7.67, 9.5), (7.69, 9.2), (7.71, 8.5), (7.73, 7.9),
         (7.75, 8.6), (7.77, 8.4), (7.8, 7.8), (7.82, 7.3), (7.84, 8.0), (7.86, 8.4), (7.88, 7.2),
         (7.9, 6.3), (7.92, 4.5), (7.93, 2.6), (7.95, 3.2), (7.97, 3.7), (7.99, 2.8), (8.01, 2.1),
         (8.04, 1.8), (8.06, 2.3), (8.08, 1.6), (8.11, 1.9), (8.14, 2.1), (8.17, 2.6), (8.2, 2.4),
         (8.23, 2.9), (8.26, 3.3), (8.29, 3.8), (8.32, 4.2), (8.35, 3.9), (8.38, 3.7), (8.4, 2.6),
         (8.42, 1.6), (8.43, 1.3), (8.45, 2.2), (8.47, 1.0), (8.49, 2.0), (8.52, 3.1), (8.55, 3.8),
         (8.58, 4.2), (8.61, 4.0), (8.64, 4.5), (8.67, 4.7), (8.7, 4.2), (8.73, 4.6), (8.76, 4.2),
         (8.79, 4.9), (8.82, 5.2), (8.85, 4.6), (8.89, 4.4), (8.92, 4.8), (8.95, 4.1), (8.98, 4.2),
         (9.01, 4.6), (9.04, 4.3), (9.06, 4.8), (9.09, 4.5), (9.12, 3.8), (9.15, 4.2), (9.18, 4.7),
         (9.21, 4.0), (9.24, 4.4), (9.27, 4.9), (9.3, 4.2), (9.33, 3.9), (9.36, 4.6), (9.39, 5.0),
         (9.42, 5.5), (9.45, 4.4), (9.48, 4.8), (9.5, 4.4), (9.53, 3.9), (9.56, 4.5), (9.59, 3.7),
         (9.61, 3.0), (9.63, 2.1), (9.65, 4.5), (9.68, 6.6), (9.71, 5.8), (9.74, 5.0), (9.76, 5.6),
         (9.78, 6.3), (9.81, 6.9), (9.85, 7.3), (9.88, 6.5), (9.92, 6.0), (9.95, 7.2), (9.99, 8.4),
         (10.02, 7.6), (10.05, 7.3), (10.08, 8.2), (10.12, 8.9), (10.14, 9.8), (10.16, 10.8),
         (10.18, 11.5), (10.2, 12.1), (10.22, 14.0), (10.24, 16.5), (10.25, 17.2), (10.27, 17.0),
         (10.29, 16.8), (10.31, 16.2), (10.33, 15.5), (10.35, 14.5), (10.37, 11.6), (10.39, 13.5),
         (10.42, 16.0), (10.44, 14.0), (10.47, 12.2), (10.49, 12.8), (10.51, 11.8), (10.53, 10.5),
         (10.56, 10.2), (10.58, 9.0), (10.6, 8.5), (10.63, 9.2), (10.66, 8.8), (10.69, 9.5),
         (10.73, 9.3), (10.76, 8.8), (10.8, 8.4), (10.83, 7.8), (10.86, 7.4), (10.89, 7.0),
         (10.92, 6.3), (10.95, 6.0), (10.99, 5.8), (11.02, 6.4), (11.04, 6.6), (11.07, 5.6),
         (11.1, 5.5), (11.13, 6.0), (11.17, 6.3), (11.2, 5.4), (11.23, 5.2), (11.26, 5.8),
         (11.3, 6.1), (11.33, 4.5), (11.36, 3.7), (11.4, 4.3), (11.43, 4.7), (11.46, 3.6),
         (11.48, 2.0), (11.49, 0.8), (11.51, 2.5), (11.53, 3.5), (11.56, 3.7), (11.6, 4.5),
         (11.63, 4.0), (11.65, 4.7), (11.67, 4.1), (11.69, 3.7), (11.72, 4.6), (11.74, 5.0),
         (11.76, 5.5), (11.79, 4.8), (11.82, 4.5), (11.85, 3.9), (11.89, 3.7), (11.92, 4.3),
         (11.96, 4.2), (12.0, 4.8), (12.04, 4.5), (12.08, 3.8), (12.11, 3.2), (12.13, 2.6),
         (12.16, 3.8), (12.2, 4.7), (12.22, 3.5), (12.24, 2.1), (12.27, 3.2), (12.3, 3.9),
         (12.34, 4.4), (12.38, 3.8), (12.41, 4.3), (12.44, 4.2), (12.48, 3.5), (12.52, 3.7),
         (12.56, 4.4), (12.61, 4.2), (12.65, 3.6), (12.7, 3.1), (12.74, 3.9), (12.79, 4.5),
         (12.83, 4.5), (12.87, 3.6), (12.9, 2.1), (12.93, 3.5), (12.96, 4.2), (13.0, 3.8),
         (13.05, 3.4), (13.1, 3.7), (13.15, 3.3), (13.19, 2.9), (13.23, 3.6), (13.25, 3.4),
         (13.28, 2.6), (13.3, 1.5), (13.31, 0.8), (13.33, 2.4), (13.36, 4.2), (13.41, 4.4),
         (13.45, 4.1), (13.49, 4.6), (13.54, 4.3), (13.58, 4.2), (13.62, 4.7), (13.67, 4.0),
         (13.71, 4.1), (13.75, 4.6), (13.8, 4.4), (13.84, 4.7), (13.88, 4.2), (13.93, 4.1),
         (13.97, 4.6), (14.01, 4.2), (14.05, 4.5), (14.1, 4.9), (14.14, 4.4), (14.18, 4.7),
         (14.23, 4.9), (14.27, 4.6), (14.3, 5.5), (14.33, 4.7), (14.36, 4.5), (14.4, 5.0),
         (14.45, 4.8), (14.49, 5.4), (14.53, 4.8), (14.58, 4.6), (14.62, 5.0), (14.67, 4.5),
         (14.71, 4.9), (14.75, 4.7), (14.8, 4.3), (14.84, 4.8), (14.89, 4.5), (14.93, 4.9),
         (14.97, 4.6), (15.02, 5.1), (15.06, 4.8), (15.1, 5.0), (15.14, 4.7), (15.19, 4.3),
         (15.23, 3.8), (15.25, 2.9), (15.28, 3.5), (15.32, 3.7), (15.36, 3.3), (15.4, 2.6),
         (15.43, 1.8), (15.45, 2.6), (15.49, 3.9), (15.54, 4.5), (15.58, 4.2), (15.63, 4.8),
         (15.67, 4.7), (15.72, 4.3), (15.76, 4.5), (15.8, 4.2), (15.85, 3.6), (15.89, 4.0),
         (15.93, 3.9), (15.98, 3.4), (16.02, 2.9), (16.06, 3.3), (16.11, 3.7), (16.15, 3.2),
         (16.19, 3.6), (16.24, 3.4), (16.28, 3.0), (16.33, 3.5), (16.37, 2.9), (16.41, 3.3),
         (16.46, 3.6), (16.5, 3.7), (16.54, 3.9), (16.59, 4.1), (16.63, 3.8), (16.68, 4.2),
         (16.72, 3.7), (16.76, 4.0), (16.81, 3.9), (16.85, 4.2), (16.9, 4.1)]

# event brackets (day ranges) drawn in the density panel
cme_span = (7.30, 8.39)
cir_span = (9.28, 12.09)


def split(pairs):
    arr = np.array(pairs, dtype=float)
    return arr[:, 0], arr[:, 1]


def style_axis(ax, ylim, yticks, yminor):
    ax.set_xlim(5, 16.9)
    ax.set_ylim(*ylim)
    ax.xaxis.set_major_locator(MultipleLocator(2))
    ax.xaxis.set_minor_locator(MultipleLocator(1))
    ax.set_yticks(yticks)
    ax.yaxis.set_minor_locator(MultipleLocator(yminor))
    ax.tick_params(which="both", direction="in", top=True, right=True, color="0.2")
    ax.tick_params(axis="y", which="major", length=13, width=1.0, labelsize=13.5, pad=5)
    ax.tick_params(axis="y", which="minor", length=6.5, width=0.8, color="0.45")
    ax.tick_params(axis="x", which="both", length=4.5, width=1.0, labelsize=13.5, pad=9)
    for sp in ax.spines.values():
        sp.set_linewidth(1.2)
        sp.set_color("0.15")
    # lowest label sits just above the panel edge
    ticks = ax.yaxis.get_major_ticks()
    ticks[0].label1.set_va("bottom")


fig = plt.figure(figsize=(9.97, 7.62), dpi=100)
L, W = 0.091, 0.907
ax_n = fig.add_axes([L, 0.6785, W, 0.3031])
ax_v = fig.add_axes([L, 0.3793, W, 0.2992])
ax_b = fig.add_axes([L, 0.0761, W, 0.3031])

panels = [
    (ax_n, [np_ace, np_soho, np_stb, np_sta], [C_ACE, C_SOHO, C_STB, C_STA], 1.5),
    (ax_v, [v_ace, v_soho, v_stb, v_sta], [C_ACE, C_SOHO, C_STB, C_STA], 1.5),
    (ax_b, [b_ace, b_stb, b_sta], [C_ACE, C_STB, C_STA], 1.1),
]
widths = {C_SOHO: 0.9, C_STB: 1.1, C_STA: 0.9}

handles = {}
for ax, data, colors, ace_lw in panels:
    for pairs, c in zip(data, colors):
        x, y = split(pairs)
        (ln,) = ax.plot(x, y, color=c, lw=widths.get(c, ace_lw))
        handles.setdefault(c, ln)

style_axis(ax_n, (0, 54), [0, 10, 20, 30, 40, 50], 1)
style_axis(ax_v, (300, 850), [300, 400, 500, 600, 700, 800], 10)
style_axis(ax_b, (0, 18), [0, 5, 10, 15], 1)

ax_n.tick_params(axis="x", labelbottom=False)
ax_v.tick_params(axis="x", labelbottom=False)
ax_b.set_xlabel("Day of 2008 February", fontsize=14, labelpad=6)

# y labels placed as figure text so they line up like the original
fig.text(39 / 997, 1 - 129.5 / 762, r"n$_\mathrm{p}$ (cm$^{-3}$)", rotation=90,
         ha="center", va="center", fontsize=14)
fig.text(26 / 997, 1 - 359 / 762, r"V (km s$^{-1}$)", rotation=90,
         ha="center", va="center", fontsize=14)
fig.text(36 / 997, 1 - 588 / 762, "B (nT)", rotation=90,
         ha="center", va="center", fontsize=14)

# CME / CIR brackets
br = dict(color="0.3", lw=1.2)
ax_n.plot([cme_span[0], cme_span[0], cme_span[1], cme_span[1]], [35, 40, 40, 35], **br)
ax_n.text(7.80, 40.7, "CME", ha="center", va="baseline", fontsize=15, color="0.1")
ax_n.plot([cir_span[0], cir_span[0], cir_span[1], cir_span[1]], [42, 47, 47, 42], **br)
ax_n.text(10.73, 47.8, "CIR", ha="center", va="baseline", fontsize=15, color="0.1")

leg_lines = [handles[C_STA], handles[C_STB], handles[C_SOHO], handles[C_ACE]]
leg = ax_n.legend(leg_lines, series_names, loc="upper left", bbox_to_anchor=(0.714, 0.951),
                  frameon=False, fontsize=15, handlelength=3.6, handletextpad=0.4,
                  labelspacing=0.68, borderpad=0, borderaxespad=0, labelcolor="linecolor")
for hl in leg.get_lines():
    hl.set_linewidth(0.9)

fig.savefig("out.png", dpi=100)
